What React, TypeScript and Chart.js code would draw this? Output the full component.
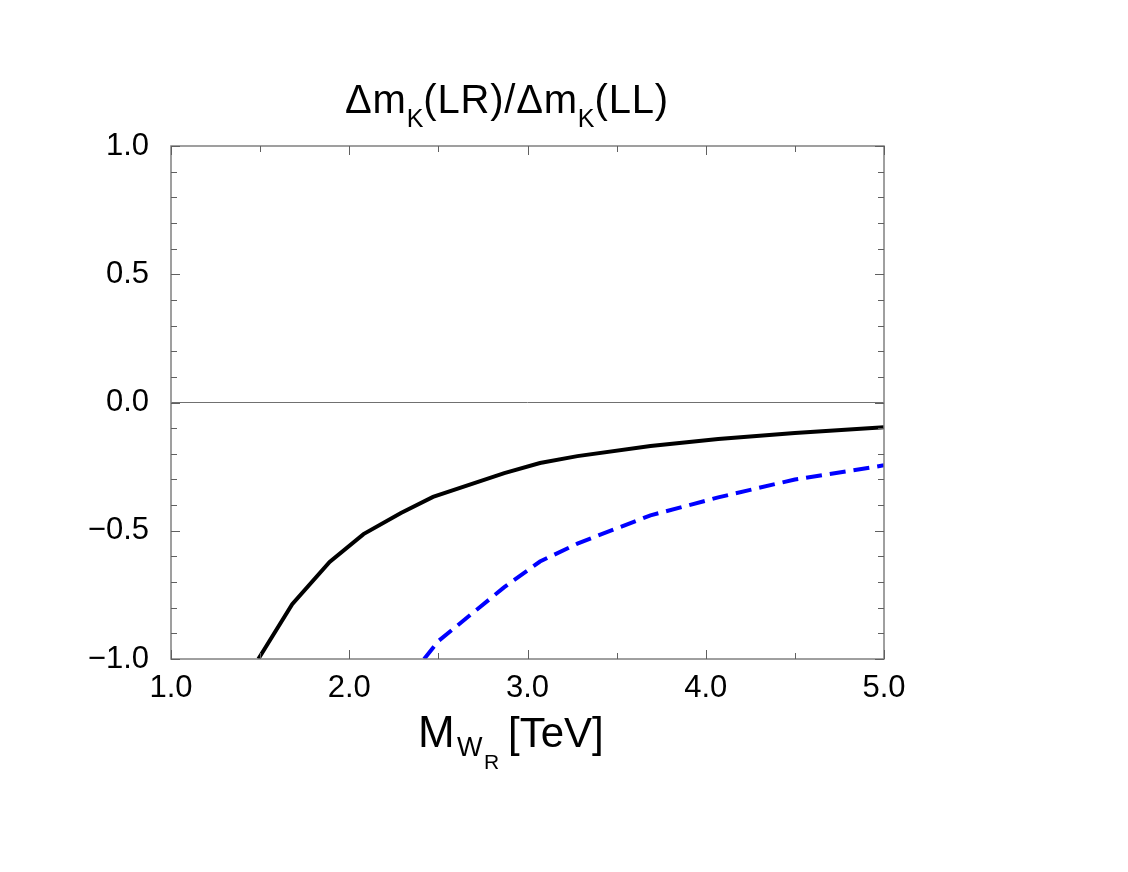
import React, { useEffect, useRef } from "react";
import { Chart, registerables } from "chart.js";
Chart.register(...registerables);

const blackX = [1.49, 1.68, 1.89, 2.08, 2.29, 2.47, 2.87, 3.07, 3.28, 3.69, 4.07, 4.5, 5.0];
const blackY = [-1.0, -0.786, -0.622, -0.513, -0.431, -0.368, -0.275, -0.236, -0.209, -0.17, -0.142, -0.119, -0.096];
const blueX = [2.42, 2.5, 2.87, 3.07, 3.28, 3.69, 4.07, 4.5, 5.0];
const blueY = [-1.0, -0.93, -0.72, -0.62, -0.55, -0.44, -0.37, -0.3, -0.245];
const xMin = 1, xMax = 5, yMin = -1, yMax = 1;

const FONT = "'Liberation Sans', Arial, Helvetica, sans-serif";

type Part = { text: string; size: number; dy: number; x?: number; ls?: number };

function drawRich(ctx: CanvasRenderingContext2D, parts: Part[], startX: number, baseline: number) {
  let x = startX;
  ctx.textAlign = "left";
  ctx.textBaseline = "alphabetic";
  ctx.fillStyle = "#000";
  parts.forEach((p) => {
    if (p.x !== undefined) x = p.x;
    ctx.font = `${p.size}px ${FONT}`;
    (ctx as any).letterSpacing = `${p.ls ?? 0}px`;
    ctx.fillText(p.text, x, baseline + p.dy);
    x += ctx.measureText(p.text).width;
  });
  (ctx as any).letterSpacing = "0px";
}

const framePlugin = {
  id: "frame",
  beforeDatasetsDraw(chart: any) {
    const { ctx, chartArea, scales } = chart;
    const y0 = scales.y.getPixelForValue(0);
    ctx.save();
    ctx.strokeStyle = "#707070";
    ctx.lineWidth = 1;
    ctx.beginPath();
    ctx.moveTo(chartArea.left, y0);
    ctx.lineTo(chartArea.right, y0);
    ctx.stroke();
    ctx.restore();
  },
  afterDraw(chart: any) {
    const { ctx, chartArea, scales } = chart;
    const { left, right, top, bottom } = chartArea;
    ctx.save();
    ctx.strokeStyle = "#808080";
    ctx.lineWidth = 1.5;
    ctx.strokeRect(left, top, right - left, bottom - top);
    ctx.lineWidth = 1;
    ctx.strokeStyle = "#606060";
    ctx.beginPath();
    for (let i = 0; i <= 8; i++) {
      const v = xMin + i * 0.5;
      const px = Math.round(scales.x.getPixelForValue(v)) + 0.5;
      const len = i % 2 === 0 ? 9 : 6;
      ctx.moveTo(px, bottom);
      ctx.lineTo(px, bottom - len);
      ctx.moveTo(px, top);
      ctx.lineTo(px, top + len);
    }
    for (let i = 0; i <= 20; i++) {
      const v = yMin + i * 0.1;
      const py = Math.round(scales.y.getPixelForValue(v)) + 0.5;
      const len = i % 5 === 0 ? 9 : 6;
      ctx.moveTo(left, py);
      ctx.lineTo(left + len, py);
      ctx.moveTo(right, py);
      ctx.lineTo(right - len, py);
    }
    ctx.stroke();
    drawRich(
      ctx,
      [
        { text: "\u0394m", size: 40, dy: 0, ls: 0.8 },
        { text: "K", size: 25, dy: 14 },
        { text: "(LR)/\u0394m", size: 40, dy: 0, ls: 0.8 },
        { text: "K", size: 25, dy: 14 },
        { text: "(LL)", size: 40, dy: 0, ls: 0.8 },
      ],
      345,
      113
    );
    drawRich(
      ctx,
      [
        { text: "M", size: 44, dy: 0 },
        { text: "W", size: 27, dy: 9, x: 457 },
        { text: "R", size: 21, dy: 22, x: 484 },
        { text: "[TeV]", size: 42, dy: 0, x: 508 },
      ],
      418,
      747
    );
    ctx.restore();
  },
};

function fmt(v: number) {
  const s = Math.abs(v).toFixed(1);
  return v < -1e-9 ? "\u2212" + s : s;
}

export default function App() {
  const ref = useRef<HTMLCanvasElement | null>(null);
  useEffect(() => {
    document.body.style.margin = "0";
    const canvas = ref.current!;
    const chart = new Chart(canvas, {
      type: "scatter",
      data: {
        datasets: [
          {
            data: blackX.map((x, i) => ({ x, y: blackY[i] })),
            showLine: true,
            borderColor: "#000000",
            borderWidth: 4,
            pointRadius: 0,
            tension: 0,
          },
          {
            data: blueX.map((x, i) => ({ x, y: blueY[i] })),
            showLine: true,
            borderColor: "#0000ff",
            borderWidth: 4,
            borderDash: [16, 8],
            pointRadius: 0,
            tension: 0,
          },
        ],
      },
      plugins: [framePlugin],
      options: {
        animation: false,
        responsive: false,
        maintainAspectRatio: false,
        layout: { padding: { top: 146, right: 244, left: 0, bottom: 0 } },
        plugins: { legend: { display: false }, tooltip: { enabled: false }, title: { display: false } },
        scales: {
          x: {
            type: "linear",
            min: xMin,
            max: xMax,
            grid: { display: false, drawTicks: false },
            border: { display: false },
            afterFit: (s: any) => {
              s.height = 213;
            },
            ticks: {
              stepSize: 1,
              padding: 11,
              color: "#000",
              font: { family: FONT, size: 31 },
              callback: (v: any) => fmt(Number(v)),
              maxRotation: 0,
            },
          },
          y: {
            type: "linear",
            min: yMin,
            max: yMax,
            grid: { display: false, drawTicks: false },
            border: { display: false },
            afterFit: (s: any) => {
              s.width = 171;
            },
            ticks: {
              stepSize: 0.5,
              padding: 22,
              color: "#000",
              font: { family: FONT, size: 31 },
              callback: (v: any) => fmt(Number(v)),
            },
          },
        },
      },
    });
    return () => chart.destroy();
  }, []);
  return (
    <div style={{ position: "absolute", left: 0, top: 0, width: 1128, height: 872, background: "#fff" }}>
      <canvas ref={ref} width={1128} height={872} style={{ width: 1128, height: 872, display: "block" }} />
    </div>
  );
}
